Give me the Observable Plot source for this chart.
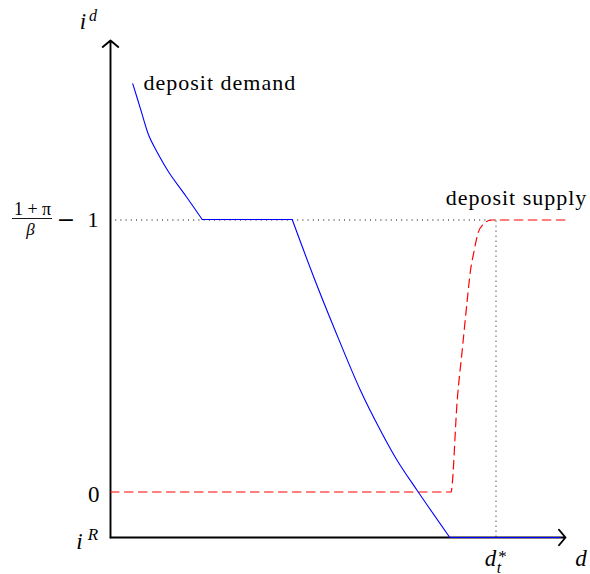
<!DOCTYPE html>
<html>
<head>
<meta charset="utf-8">
<script src="https://cdn.jsdelivr.net/npm/d3@7"></script>
<script src="https://cdn.jsdelivr.net/npm/@observablehq/plot@0.6"></script>
<style>
  html, body { margin: 0; padding: 0; background: #fff; }
  #chart svg { display: block; }
  #chart svg text { font-family: "Liberation Serif", "Times New Roman", "DejaVu Serif", serif !important; }
  #chart svg text[aria-label='minus'] { font-family: "DejaVu Serif", "Liberation Serif", serif !important; }
</style>
</head>
<body>
<div id="chart"></div>
<script>
// Horizontal: deposits d_t (0 at the vertical axis). Vertical: deposit rate i^d (0 at i^R).
// Deposit demand, in pieces (curve, flat at the ceiling, curve, flat on the axis)
const demandX = [22.3, 30, 38.3, 46.7, 58.3, 75, 91.7,   91.7, 181.7,   181.7, 203.3, 223.3, 250, 270, 286.7, 306.7, 339.3,   339.3, 450];
const demandY = [453.7, 428.7, 402, 385.3, 365.3, 342, 318,   318, 318,   318, 260.3, 210.3, 147, 107, 77, 47, 0,   0, 0];
const demandPiece = ["a", "a", "a", "a", "a", "a", "a",   "b", "b",   "c", "c", "c", "c", "c", "c", "c", "c",   "d", "d"];

// Deposit supply
const supplyX = [0, 340.7, 341, 346.7, 351.7, 356.7, 360, 363.3, 367.7, 373.3, 378.3, 381, 455];
const supplyY = [45.5, 45.5, 47, 137, 187, 237, 267, 285, 305, 313.7, 317, 317.5, 317.5];

const rateLevels = { iR: 0, zero: 45.5, ceiling: 317.5, top: 497 };
const depositLevels = { origin: 0, dStar: 385.5, right: 455 };

const curveLabels = ["deposit demand", "deposit supply"];

const demand = demandX.map((x, i) => ({ x, y: demandY[i], piece: demandPiece[i] }));
const supply = supplyX.map((x, i) => ({ x, y: supplyY[i] }));
const axesData = [
  { x1: depositLevels.origin, y1: rateLevels.iR, x2: depositLevels.origin, y2: rateLevels.top },
  { x1: depositLevels.origin, y1: rateLevels.iR, x2: depositLevels.right, y2: rateLevels.iR }
];

const serif = "Liberation Serif, Times New Roman, DejaVu Serif, serif";

function label(text, x, y, opts) {
  return Plot.text([{ x, y }], {
    x: "x", y: "y", text: () => text,
    lineAnchor: "bottom", textAnchor: "middle",
    fill: "black", fontFamily: serif,
    ...opts
  });
}

const chart = Plot.plot({
  width: 590,
  height: 574,
  marginLeft: 110,
  marginRight: 25,
  marginTop: 40,
  marginBottom: 37,
  x: { domain: [0, 455], axis: null },
  y: { domain: [0, 497], axis: null },
  style: { background: "white", overflow: "visible" },
  marks: [
    Plot.ruleY([rateLevels.ceiling], { x1: depositLevels.origin, x2: depositLevels.dStar, stroke: "black", strokeWidth: 1, strokeDasharray: "1,4.2" }),
    Plot.ruleX([depositLevels.dStar], { y1: rateLevels.iR, y2: rateLevels.ceiling, stroke: "#777", strokeWidth: 1.2, strokeDasharray: "1.6,3.4" }),
    Plot.arrow(axesData, { x1: "x1", y1: "y1", x2: "x2", y2: "y2", stroke: "black", strokeWidth: 1.9, headLength: 8, headAngle: 100 }),
    Plot.line(supply, { x: "x", y: "y", stroke: "#ff0000", strokeWidth: 1.2, strokeDasharray: "8.5,5.5", curve: "monotone-x" }),
    Plot.line(demand, { x: "x", y: "y", z: "piece", stroke: "#0000ff", strokeWidth: 1.1, curve: "catmull-rom" }),
    Plot.text([demand[0]], { x: "x", y: "y", text: () => curveLabels[0], textAnchor: "start", lineAnchor: "bottom", dx: 10.7, dy: 6, fontSize: 22, fontFamily: serif, fill: "black", ariaLabel: () => "curve-label" }),
    Plot.text([supply[supply.length - 1]], { x: "x", y: "y", text: () => curveLabels[1], textAnchor: "middle", lineAnchor: "bottom", dx: -49, dy: -15, fontSize: 22, fontFamily: serif, fill: "black", ariaLabel: () => "curve-label" }),
    // i^d
    label("i", depositLevels.origin, rateLevels.top, { dx: -27.5, dy: -12, fontSize: 23, fontStyle: "italic" }),
    label("d", depositLevels.origin, rateLevels.top, { dx: -17.5, dy: -20, fontSize: 16, fontStyle: "italic" }),
    // 0
    label("0", depositLevels.origin, rateLevels.zero, { dx: -16.7, dy: 9.5, fontSize: 23 }),
    // i^R
    label("i", depositLevels.origin, rateLevels.iR, { dx: -31, dy: 11, fontSize: 23, fontStyle: "italic" }),
    label("R", depositLevels.origin, rateLevels.iR, { dx: -17.5, dy: 2, fontSize: 17, fontStyle: "italic" }),
    // d*_t
    label("d", depositLevels.dStar, rateLevels.iR, { dx: -5.5, dy: 28, fontSize: 23, fontStyle: "italic" }),
    label("t", depositLevels.dStar, rateLevels.iR, { dx: 3, dy: 35, fontSize: 16, fontStyle: "italic" }),
    label("*", depositLevels.dStar, rateLevels.iR, { dx: 6.5, dy: 24, fontSize: 17 }),
    // d_t (axis label)
    label("d", depositLevels.right, rateLevels.iR, { dx: 15.5, dy: 28, fontSize: 23, fontStyle: "italic" }),
    label("t", depositLevels.right, rateLevels.iR, { dx: 27, dy: 35, fontSize: 16, fontStyle: "italic" }),
    // (1+pi)/beta - 1
    label("1 + π", depositLevels.origin, rateLevels.ceiling, { dx: -78, dy: -5, fontSize: 18 }),
    Plot.ruleY([rateLevels.ceiling], { x1: depositLevels.origin, x2: depositLevels.origin, insetLeft: -98, insetRight: 58, dy: -1.5, stroke: "black", strokeWidth: 0.9 }),
    label("β", depositLevels.origin, rateLevels.ceiling, { dx: -80, dy: 14.5, fontSize: 17, fontStyle: "italic" }),
    label("−", depositLevels.origin, rateLevels.ceiling, { dx: -44.5, dy: 6.5, fontSize: 22, fontFamily: "DejaVu Serif, Liberation Serif, serif", ariaLabel: () => "minus" }),
    label("1", depositLevels.origin, rateLevels.ceiling, { dx: -17.5, dy: 7, fontSize: 22 })
  ]
});

const svgSel = d3.select(chart);
svgSel.selectAll("text").each(function () {
  const isMinus = this.getAttribute("aria-label") === "minus";
  this.style.setProperty("font-family", isMinus ? "'DejaVu Serif', 'Liberation Serif', serif" : "'Liberation Serif', 'Times New Roman', serif", "important");
});
svgSel.selectAll("text[aria-label='curve-label']").attr("letter-spacing", "1");

document.getElementById("chart").appendChild(chart);
</script>
</body>
</html>
